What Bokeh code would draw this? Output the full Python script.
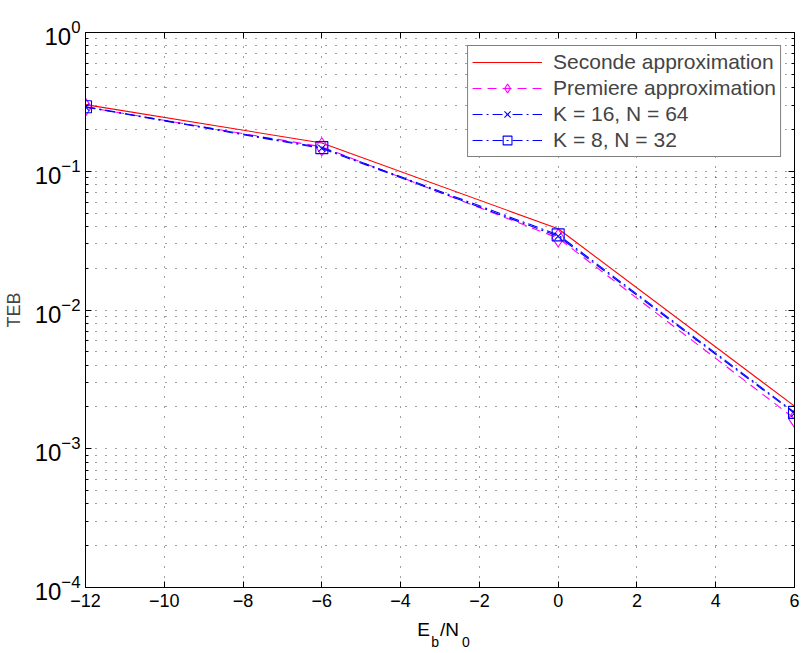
from bokeh.plotting import figure
from bokeh.models import (FixedTicker, LinearAxis, LogAxis, Range1d)
from bokeh.embed import file_html
from bokeh.resources import INLINE

# ---- data ----
ebn0 = [-12, -6, 0, 6]
seconde = [0.302, 0.160, 0.0385, 0.00203]
premiere = [0.290, 0.150, 0.0330, 0.00165]
k16_n64 = [0.290, 0.146, 0.0340, 0.00180]
k8_n32 = [0.292, 0.148, 0.0348, 0.00183]

x_ticks = [-12, -10, -8, -6, -4, -2, 0, 2, 4, 6]
x_tick_labels = ["\u221212", "\u221210", "\u22128", "\u22126", "\u22124", "\u22122", "0", "2", "4", "6"]
y_ticks = [1e-4, 1e-3, 1e-2, 1e-1, 1e0]
y_minor = [k * 10.0 ** e for e in (-4, -3, -2, -1) for k in range(2, 10)]

FONT = "Liberation Sans"

W, H = 803, 653
FL, FR, FT, FB = 82, 9, 32, 66
X0, X1 = -12, 6
p = figure(width=W, height=H, y_axis_type="log", output_backend="svg",
           toolbar_location=None, x_range=Range1d(X0, X1), y_range=Range1d(1e-4, 1),
           min_border_left=FL, min_border_right=FR, min_border_top=FT, min_border_bottom=FB)
p.outline_line_color = "black"
p.outline_line_width = 1
p.background_fill_color = "white"

xt = FixedTicker(ticks=x_ticks)
yt = FixedTicker(ticks=y_ticks, minor_ticks=y_minor)

p.xaxis.ticker = xt
p.yaxis.ticker = yt
p.xaxis.major_label_overrides = {t: l for t, l in zip(x_ticks, x_tick_labels)}

for ax in (p.xaxis[0], p.yaxis[0]):
    ax.major_tick_in = 6
    ax.major_tick_out = 0
    ax.minor_tick_in = 3
    ax.minor_tick_out = 0
    ax.axis_line_color = "black"
    ax.major_tick_line_color = "black"
    ax.minor_tick_line_color = "black"
    ax.major_label_text_font = FONT
    ax.major_label_text_color = "black"
    ax.axis_label_text_font = FONT
    ax.axis_label_text_font_size = "18px"
    ax.axis_label_text_font_style = "normal"
p.xaxis.major_label_text_font_size = "18px"
p.yaxis.major_label_text_font_size = "24px"
p.xaxis.minor_tick_line_color = None
p.xaxis.major_label_standoff = 6
p.yaxis.major_label_standoff = 5
p.yaxis.axis_label = "TEB"
p.yaxis.axis_label_standoff = 8

# box axes (top / right), ticks only
top = LinearAxis(ticker=xt, major_tick_in=6, major_tick_out=0, minor_tick_line_color=None,
                 major_label_text_font_size="2px", major_label_text_color=None,
                 major_label_standoff=0)
right = LogAxis(ticker=yt, major_tick_in=6, major_tick_out=0, minor_tick_in=3, minor_tick_out=0,
                major_label_text_font_size="2px", major_label_text_color=None,
                major_label_standoff=0)
p.add_layout(top, "above")
p.add_layout(right, "right")

# x axis title E_b/N_0 built from two label-only axes (main characters, then subscripts)
def px_to_x(px):
    return round(X0 + (px - FL) / (W - FL - FR) * (X1 - X0), 4)

main_parts = {px_to_x(421.5): "E", px_to_x(447.5): "/N"}
sub_parts = {px_to_x(433): "b", px_to_x(464): "0"}

title_main = LinearAxis(ticker=FixedTicker(ticks=list(main_parts)), major_label_overrides=main_parts,
                        axis_line_color=None, major_tick_line_color=None, minor_tick_line_color=None,
                        major_tick_in=0, major_tick_out=0, major_label_standoff=9,
                        major_label_text_font=FONT, major_label_text_font_size="19px",
                        major_label_text_color="black")
title_sub = LinearAxis(ticker=FixedTicker(ticks=list(sub_parts)), major_label_overrides=sub_parts,
                       axis_line_color=None, major_tick_line_color=None, minor_tick_line_color=None,
                       major_tick_in=0, major_tick_out=0, major_label_standoff=-9,
                       major_label_text_font=FONT, major_label_text_font_size="14px",
                       major_label_text_color="black")
p.add_layout(title_main, "below")
p.add_layout(title_sub, "below")

# grids
for g in (p.xgrid[0], p.ygrid[0]):
    g.grid_line_color = "black"
    g.grid_line_dash = "1 9"
    g.grid_line_width = 1
    g.grid_line_alpha = 0.75
p.xgrid.ticker = xt
p.ygrid.ticker = yt
p.ygrid.minor_grid_line_color = "black"
p.ygrid.minor_grid_line_dash = "1 9"
p.ygrid.minor_grid_line_alpha = 0.75

# series
L1 = "Seconde approximation"
L2 = "Premiere approximation"
L3 = "K = 16, N = 64"
L4 = "K = 8, N = 32"

p.line(ebn0, seconde, line_color="#ff0000", line_width=1.1, legend_label=L1)
p.line(ebn0, premiere, line_color="#ff00ff", line_width=1.1, line_dash="9 6", legend_label=L2)
p.scatter(ebn0, premiere, marker="diamond", size=18, fill_color=None, line_color="#ff00ff",
          line_width=1.1, legend_label=L2)
p.line(ebn0, k16_n64, line_color="#0000ff", line_width=1.1, line_dash="10 4 2 4", legend_label=L3)
p.scatter(ebn0, k16_n64, marker="x", size=10, line_color="#0000ff", line_width=1.1, legend_label=L3)
p.line(ebn0, k8_n32, line_color="#0000ff", line_width=1.1, line_dash="10 4 2 4", legend_label=L4)
p.scatter(ebn0, k8_n32, marker="square", size=12, fill_color=None, line_color="#0000ff",
          line_width=1.1, legend_label=L4)

lg = p.legend[0]
lg.location = "top_right"
lg.margin = 13
lg.border_line_color = "black"
lg.border_line_width = 1
lg.background_fill_color = "white"
lg.background_fill_alpha = 1
lg.label_text_font = FONT
lg.label_text_font_size = "21px"
lg.glyph_width = 70
lg.glyph_height = 22
lg.label_height = 22
lg.spacing = 2
lg.padding = 4
lg.label_standoff = 11

open("out.html", "w").write(file_html(p, INLINE))
